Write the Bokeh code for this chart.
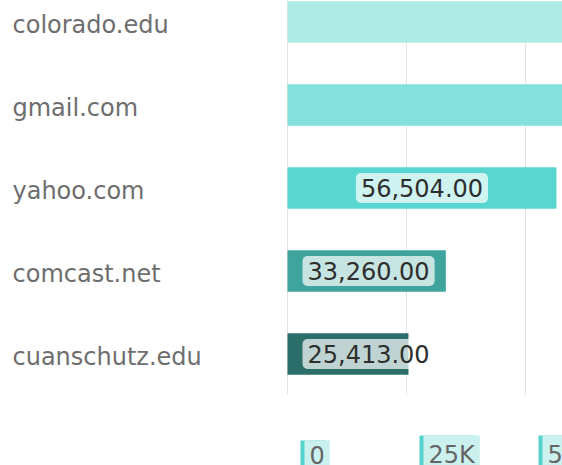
import numpy as np
from bokeh.plotting import figure
from bokeh.models import Range1d, FixedTicker, ColumnDataSource
from bokeh.layouts import column, row
from bokeh.embed import file_html
from bokeh.resources import INLINE
from bokeh.core.properties import value

# ---- data ----
domains = ["colorado.edu", "gmail.com", "yahoo.com", "comcast.net", "cuanschutz.edu"]
counts = [312000, 158000, 56504, 33260, 25413]
tick_values = [0, 25000, 50000]
tick_labels = ["0", "25K", "50K"]

# ---- styles ----
bar_colors = ["#aeebe7", "#84e1db", "#5ad6d0", "#3fa39e", "#2b6e69"]
FONT = "DejaVu Sans"
LABEL_FIT = 35000  # bars shorter than this get left-anchored value labels

idx = list(range(len(domains)))
counts_arr = np.array(counts, dtype=float)

y_rng = Range1d(start=4.5, end=-0.26)
x_rng = Range1d(start=-210, end=57773)

# ---- main bar figure ----
main = figure(width=276, height=395, x_range=x_rng, y_range=y_rng,
              toolbar_location=None, output_backend="svg",
              x_axis_location=None, y_axis_location=None,
              min_border_left=0, min_border_right=0, min_border_top=0, min_border_bottom=0,
              outline_line_color=None)
main.ygrid.visible = False
main.xgrid.ticker = FixedTicker(ticks=tick_values)
main.xgrid.grid_line_color = "#e4e4e4"
main.xgrid.grid_line_width = 1

bar_src = ColumnDataSource(dict(y=idx, right=counts, color=bar_colors))
main.hbar(y="y", left=0, right="right", height=0.5, fill_color="color",
          line_color=None, source=bar_src)

labels = [f"{v:,.2f}" for v in counts]
wide = counts_arr >= LABEL_FIT
src_c = ColumnDataSource(dict(x=(counts_arr / 2)[wide], y=np.array(idx)[wide],
                              t=[l for l, w in zip(labels, wide) if w]))
src_l = ColumnDataSource(dict(x=np.zeros(int((~wide).sum())), y=np.array(idx)[~wide],
                              t=[l for l, w in zip(labels, wide) if not w]))
common = dict(text_baseline="middle", text_font=value(FONT),
              text_font_size="24px", text_color="#2e2e2e",
              background_fill_color="white", background_fill_alpha=0.7,
              border_radius=5, padding=(5, 6))
main.text(x="x", y="y", text="t", source=src_c, text_align="center", **common)
main.text(x="x", y="y", text="t", source=src_l, text_align="left", x_offset=15, **common)

# ---- category label figure ----
lab = figure(width=286, height=395, y_range=Range1d(start=4.5 - 0.036, end=-0.26 - 0.036),
             x_range=Range1d(0, 1),
             toolbar_location=None, output_backend="svg",
             x_axis_location=None, y_axis_location="right",
             min_border_left=0, min_border_right=274, min_border_top=0, min_border_bottom=0,
             outline_line_color=None)
lab.xgrid.visible = False
lab.ygrid.visible = False
ax = lab.yaxis[0]
ax.ticker = FixedTicker(ticks=idx)
ax.major_label_overrides = {i: d for i, d in zip(idx, domains)}
ax.axis_line_color = None
ax.major_tick_line_color = None
ax.minor_tick_line_color = None
ax.major_tick_out = 0
ax.major_tick_in = 0
ax.major_label_standoff = 0
ax.major_label_text_font = FONT
ax.major_label_text_font_size = "24px"
ax.major_label_text_color = "#6e6e6e"
ax.major_label_text_align = "left"

# ---- x tick label figure ----
tk = figure(width=562, height=70, x_range=x_rng, y_range=Range1d(-11, 59),
            toolbar_location=None, output_backend="svg",
            x_axis_location=None, y_axis_location=None,
            min_border_left=286, min_border_right=0, min_border_top=0, min_border_bottom=0,
            outline_line_color=None)
tk.xgrid.visible = False
tk.ygrid.visible = False
tick_src = ColumnDataSource(dict(x=tick_values, y=[0] * len(tick_values), t=tick_labels))
tcommon = dict(text_baseline="middle", text_align="left", text_font=value(FONT),
               text_font_size="24px", padding=(5, 5))
tk.text(x="x", y="y", text="t", source=tick_src, x_offset=13, text_alpha=0,
        background_fill_color="#55d2cb", **tcommon)
tk.text(x="x", y="y", text="t", source=tick_src, x_offset=17, text_color="#666666",
        background_fill_color="#cbf1ef", **tcommon)

layout = column(row(lab, main), tk)
open("out.html", "w").write(file_html(layout, INLINE))
